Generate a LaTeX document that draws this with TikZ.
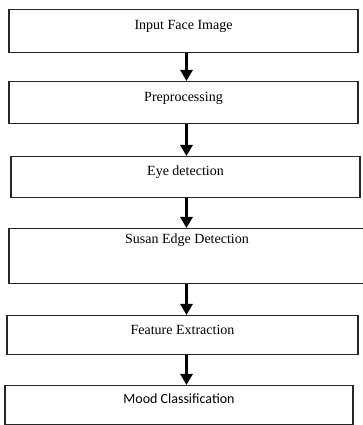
\documentclass[tikz,border=0pt]{standalone}
\usepackage{fontspec}
\setmainfont{Liberation Serif}
\newfontfamily\calfont{Carlito}
\usetikzlibrary{arrows.meta}

\begin{document}
\begin{tikzpicture}[
    x=1pt, y=1pt,
    >=Triangle,
    arrow/.style={-{Triangle[width=12pt, length=11pt]}, line width=3pt, draw=black},
    box/.style={
        draw=black!85,
        line width=1.5pt,
        fill=white,
        anchor=north,
        inner xsep=0pt,
        inner ysep=0pt,
        minimum width=349pt,
        text height=19pt,
        text depth=21pt,
        align=center,
        font=\fontsize{14}{16}\selectfont
    }
]
    \useasboundingbox (0,0) rectangle (363,425);

    %------------------------------------------------
    % kroky
    %------------------------------------------------
    \node[box, text height=20pt, text depth=23pt] (input) at (183.5,416) {Input Face Image};
    \node[box, text height=20pt, text depth=22pt] (prep)  at (183.5,344) {Preprocessing};
    \node[box, text height=19pt, text depth=22pt] (eye)   at (185.5,269) {Eye detection};
    \node[box, text height=15pt, text depth=40pt, minimum width=356pt] (susan) at (187,197) {Susan Edge Detection};
    \node[box, text height=19pt, text depth=20pt, minimum width=351pt] (feat)  at (182.5,110) {Feature Extraction};
    \node[box, text height=18pt, text depth=21pt, minimum width=348pt,
          font=\calfont\fontsize{14}{16}\selectfont] (mood) at (179,40) {Mood Classification};

    %------------------------------------------------
    % sipky
    %------------------------------------------------
    \coordinate (axis) at (186.5,0);

    \draw[arrow] (input.south -| axis) -- (prep.north -| axis);
    \draw[arrow] (prep.south -| axis)  -- (eye.north -| axis);
    \draw[arrow] (eye.south -| axis)   -- (susan.north -| axis);
    \draw[arrow] (susan.south -| axis) -- (feat.north -| axis);
    \draw[arrow] (feat.south -| axis)  -- (mood.north -| axis);

\end{tikzpicture}
\end{document}
